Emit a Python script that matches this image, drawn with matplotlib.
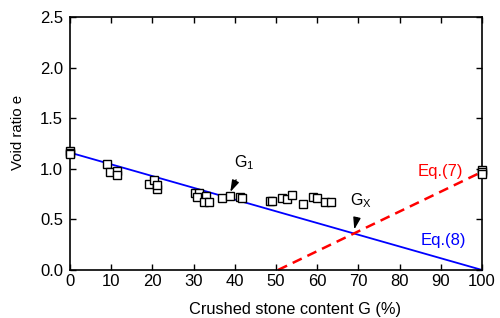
import matplotlib
matplotlib.use("Agg")
import matplotlib.pyplot as plt
import numpy as np

plt.rcParams['font.family'] = ['Liberation Sans', 'DejaVu Sans']

# measured data: crushed stone content G (%) and void ratio e
G_data = [0, 0, 0, 9.0, 9.7, 11.4, 11.4, 19.2, 20.4, 21.1, 21.0,
          30.3, 31.3, 30.8, 33.0, 32.5, 33.7, 36.9, 38.8, 41.3, 41.7,
          48.5, 49.0, 51.5, 52.6, 53.9, 56.6, 59.0, 60.0, 61.9, 63.3,
          100, 100, 100]
e_data = [1.18, 1.16, 1.15, 1.05, 0.97, 0.98, 0.94, 0.85, 0.89, 0.80, 0.84,
          0.76, 0.76, 0.72, 0.73, 0.67, 0.67, 0.71, 0.73, 0.72, 0.71,
          0.68, 0.68, 0.71, 0.70, 0.74, 0.65, 0.72, 0.71, 0.67, 0.67,
          0.99, 0.97, 0.95]

# Eq.(8): straight line
eq8_G = [0, 100]
eq8_e = [1.16, 0.0]
# Eq.(7): dashed line
eq7_G = [50.5, 100]
eq7_e = [0.0, 0.97]

x_ticks = [0, 10, 20, 30, 40, 50, 60, 70, 80, 90, 100]
y_ticks = [0.0, 0.5, 1.0, 1.5, 2.0, 2.5]

fig = plt.figure(figsize=(5.0, 3.18), dpi=100)
ax = fig.add_axes([0.14, 0.151, 0.824, 0.7955])

ax.plot(eq8_G, eq8_e, color='#0000ff', lw=1.3, zorder=2, clip_on=False)
ax.plot(eq7_G, eq7_e, color='#ff0000', lw=1.8, ls=(0, (4, 2.5)), zorder=2, clip_on=False)
ax.plot(G_data, e_data, ls='none', marker='s', ms=5.6, mfc='white', mec='black',
        mew=1.0, zorder=3, clip_on=False)

ax.set_xlim(0, 100)
ax.set_ylim(0, 2.5)
ax.set_xticks(x_ticks)
ax.set_yticks(y_ticks)
ax.set_xticklabels([str(v) for v in x_ticks], fontsize=12)
ax.set_yticklabels([f"{v:.1f}" for v in y_ticks], fontsize=12)
ax.tick_params(direction='in', top=True, right=True, length=4, width=1, pad=3)
ax.tick_params(axis='y', pad=5)
for s in ax.spines.values():
    s.set_linewidth(1.2)

ax.set_xlabel('Crushed stone content G (%)', fontsize=11.8)
ax.xaxis.set_label_coords(0.545, -0.125)
ax.set_ylabel('Void ratio e', fontsize=10.8)
ax.yaxis.set_label_coords(-0.11, 0.545)

arrow_style = '-|>,head_length=0.7,head_width=0.22'
ax.annotate('G$_\\mathregular{1}$', xy=(38.9, 0.77), xytext=(42.3, 1.06),
            fontsize=11.5, ha='center', va='center',
            arrowprops=dict(arrowstyle=arrow_style, color='black', lw=1.0,
                            mutation_scale=10, shrinkA=4, shrinkB=0))
ax.annotate('G$_\\mathregular{X}$', xy=(69.0, 0.40), xytext=(70.6, 0.69),
            fontsize=11.5, ha='center', va='center',
            arrowprops=dict(arrowstyle=arrow_style, color='black', lw=1.0,
                            mutation_scale=10, shrinkA=4, shrinkB=0))

ax.text(90.0, 0.97, 'Eq.(7)', color='#ff0000', fontsize=12, ha='center', va='center')
ax.text(90.7, 0.29, 'Eq.(8)', color='#0000ff', fontsize=12, ha='center', va='center')

fig.savefig('out.png', dpi=100)
